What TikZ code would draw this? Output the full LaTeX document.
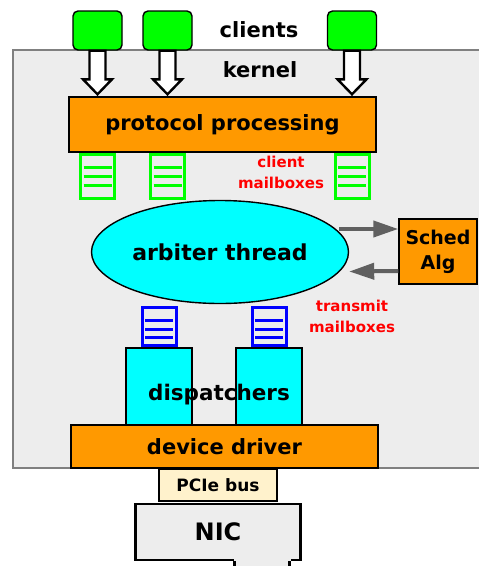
\documentclass[tikz,border=0pt]{standalone}
\usepackage{fontspec}
\setmainfont{DejaVu Sans}
\usetikzlibrary{arrows.meta, positioning, calc, shapes.geometric}

\definecolor{kgray}{RGB}{237,237,237}
\definecolor{korange}{RGB}{255,153,0}
\definecolor{kgreen}{RGB}{0,255,0}
\definecolor{kcyan}{RGB}{0,255,255}
\definecolor{kbus}{RGB}{255,242,204}
\definecolor{kred}{RGB}{255,0,0}
\definecolor{kblue}{RGB}{0,0,255}
\definecolor{kfeed}{RGB}{96,96,96}

\tikzset{
  mbox/.style n args={3}{draw=#1, line width=3pt, minimum width=34, minimum height=#2, inner sep=0pt,
    path picture={\foreach \k in {#3}
      \draw[#1, line width=3pt] ([xshift=3pt,yshift=\k pt]path picture bounding box.south west)
        -- ([xshift=-3pt,yshift=\k pt]path picture bounding box.south east);}},
  cmbox/.style={mbox={kgreen}{44}{13,22,31}},
  tmbox/.style={mbox={kblue}{38}{8,16,25}},
}

\begin{document}
\begin{tikzpicture}[x=1pt,y=-1pt,>={Triangle[length=25pt,width=16pt]},
      every node/.style={inner sep=0pt},
      txt/.style={font=\bfseries\fontsize{#1}{25}\selectfont, align=center},
      client/.style={draw, line width=1.4pt, fill=kgreen, rounded corners=5pt, minimum width=49, minimum height=39},
      layer/.style={draw, line width=1.4pt, fill=korange, minimum width=307, txt=21},
      disp/.style={draw, line width=1.4pt, fill=kcyan, minimum width=66, minimum height=77},
      hollow/.style={draw, line width=2.4pt, fill=white, line join=miter},
      feed/.style={->, draw=kfeed, fill=kfeed, line width=4pt},
      note/.style={text=kred, font=\bfseries\fontsize{15}{21}\selectfont, align=center}]
  \useasboundingbox (0,0) rectangle (479,566);
  \draw[draw=gray, line width=1.4pt, fill=kgray] (13,50) rectangle (482,468);

  \node[client] (cl_1) at (97.5,30.5) {};
  \node[client] (cl_2) at (167.5,30.5) {};
  \node[client] (cl_3) at (352,30.5) {};
  \node[txt=21] (clients) at (259,30) {clients};
  \node[txt=21] (kernel) at (260,70) {kernel};

  \node[layer, minimum height=55] (pp) at (222.5,124.5) {protocol processing};

  \foreach \i in {1,2,3} {
    \draw[hollow] ($(cl_\i.south)+(-8,0)$) -- ($(cl_\i.south |- pp.north)+(-8,-17)$) -- ++(-6.5,0)
      -- ($(cl_\i.south |- pp.north)+(0,-2)$) -- ($(cl_\i.south |- pp.north)+(14.5,-17)$) -- ++(-6.5,0)
      -- ($(cl_\i.south)+(8,0)$) -- cycle;
    \node[cmbox, anchor=north] (mb_\i) at (cl_\i.south |- pp.south) {};
  }
  \node[note] (cmlabel) at (281,172) {client\\mailboxes};

  \node[ellipse, draw, line width=1.4pt, fill=kcyan, minimum width=257, minimum height=103, txt=22] (arb) at (220,252) {arbiter thread};
  \node[draw, line width=1.4pt, fill=korange, minimum width=78, minimum height=65, txt=19] (sched) at (438,251.5) {Sched\\Alg};
  \draw[feed] ($(arb.east)+(-10,-23)$) -- ($(sched.west)+(0,-22.5)$);
  \draw[feed] ($(sched.west)+(0,19.5)$) -- ($(arb.east)+(0,19.5)$);
  \node[note] (tmlabel) at (352,316) {transmit\\mailboxes};

  \node[disp] (dp_1) at (159,386.5) {};
  \node[disp] (dp_2) at (269,386.5) {};
  \foreach \i in {1,2}
    \node[tmbox, anchor=south] (tm_\i) at (dp_\i.north) {};
  \node[txt=21.5] (dispatchers) at (219,395) {dispatchers};

  \node[layer, minimum height=43] (dd) at (224.5,446.5) {device driver};
  \node[draw, line width=1.4pt, fill=kbus, minimum width=118, minimum height=32, txt=17] (bus) at (218,485) {PCIe bus};

  \node[draw, line width=2.6pt, fill=kgray, minimum width=165, minimum height=56, txt=24, below=1pt of bus] (nic) {NIC};
  \fill[kgray] ($(nic.south)+(15.5,-2)$) rectangle ($(nic.south)+(72.5,12)$);
  \draw[line width=2.6pt] ($(nic.south)+(16.5,0)$) -- ++(0,12);
  \draw[line width=2.6pt] ($(nic.south)+(71.5,0)$) -- ++(0,12);
\end{tikzpicture}
\end{document}
